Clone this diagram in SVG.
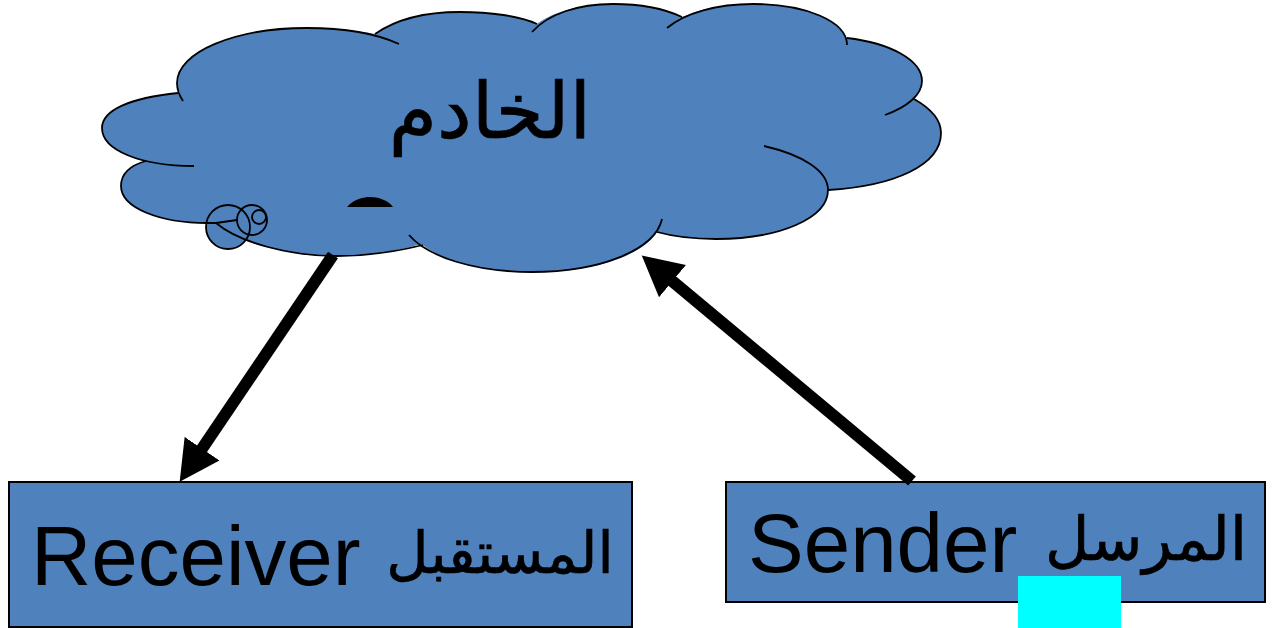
<svg xmlns="http://www.w3.org/2000/svg" width="1277" height="628" viewBox="0 0 1277 628">
<style>
.f{fill:#4f81bd}
.s{fill:none;stroke:#000;stroke-width:1.8}
.box{fill:#4f81bd;stroke:#000;stroke-width:2}
.l{font-family:"Liberation Sans",Arial,sans-serif;font-size:83.5px;fill:#000}
.a{font-family:"DejaVu Sans","Noto Sans",sans-serif;fill:#000;stroke:#000;stroke-width:.7}
.c{fill:none;stroke:#000;stroke-width:12}
</style>
<defs>
<marker id="ah" markerUnits="userSpaceOnUse" markerWidth="42" markerHeight="44" refX="1" refY="22" orient="auto"><path d="M0,1 L40,22 L0,43 Z" fill="#000"/></marker>
</defs>
<g id="server">
<path class="f" d="M180,93 C130,98 102,110 102,128 C102,142 117,153 142,160 L146,161 C128,166 121,175 121,186 C121,208 160,223 207,223 C240,243 290,256 337,256 C365,256 395,252 421,244 C445,262 485,272 532,272 C590,272 640,258 657,232 C675,237 695,239 716,239 C780,239 828,218 828,190 C895,186 941,165 941,133 C941,120 930,108 914,99 C918,93 922,88 922,81 C922,60 890,43 847,38 C838,18 800,4 753,4 C725,4 700,9 682,17 C665,9 640,4 613,4 C580,4 553,12 537,24 C520,16 490,12 460,12 C425,12 395,20 375,34 C355,30 330,28 307,28 C235,28 177,52 177,83 C177,87 178,90 180,93 Z"/>
<circle class="f" cx="228" cy="227" r="22"/>
<path class="s" d="M183,101 C179,95 177,89 177,83 C177,52 235,28 307,28 C342,28 375,33 399,44"/>
<path class="s" d="M375,34 C395,20 425,12 460,12 C490,12 520,16 537,24"/>
<path class="s" d="M532,32 C548,14 578,4 613,4 C640,4 665,9 682,17"/>
<path class="s" d="M667,28 C685,13 717,4 753,4 C805,4 847,21 847,45"/>
<path class="s" d="M847,38 C890,43 922,60 922,81 C922,95 907,107 885,115"/>
<path class="s" d="M914,99 C930,108 941,120 941,133 C941,165 895,186 828,190"/>
<path class="s" d="M764,146 C803,155 828,171 828,190 C828,218 780,239 716,239 C695,239 675,237 657,232"/>
<path class="s" d="M662,219 C655,250 600,272 532,272 C475,272 428,257 409,235"/>
<path class="s" d="M423,245 C395,252 365,256 337,256 C290,256 240,243 216,223"/>
<path class="s" d="M146,161 C128,166 121,175 121,186 C121,208 160,223 207,223 L216,223 L237,220"/>
<path class="s" d="M178,93 C130,98 102,110 102,128 C102,150 140,166 194,166"/>
<circle class="s" cx="228" cy="227" r="22"/>
<circle class="s" cx="252" cy="220" r="15"/>
<circle class="s" cx="259" cy="217" r="7"/>
<text class="a" x="490" y="138" font-size="78" text-anchor="middle" direction="rtl">الخادم</text>
<path d="M347,207 C354,199 364,197 370,197 C378,197 388,200 393,207 Z" fill="#000"/>
</g>
<g id="receiver">
<rect class="box" x="9" y="482" width="623" height="145"/>
<text class="l" x="31" y="585">Receiver</text>
<text class="a" x="500" y="573" font-size="58" text-anchor="middle" direction="rtl">المستقبل</text>
</g>
<g id="sender">
<rect class="box" x="726" y="482" width="539" height="120"/>
<text class="l" x="748" y="572">Sender</text>
<text class="a" x="1146" y="560" font-size="61" text-anchor="middle" direction="rtl">المرسل</text>
</g>
<g id="connectors">
<line class="c" x1="333" y1="255" x2="201.5" y2="449.5" marker-end="url(#ah)"/>
<line class="c" x1="912" y1="481" x2="671.7" y2="280.6" marker-end="url(#ah)"/>
</g>
<rect id="highlight" x="1018" y="576" width="103" height="52" fill="#0ff"/>
</svg>
